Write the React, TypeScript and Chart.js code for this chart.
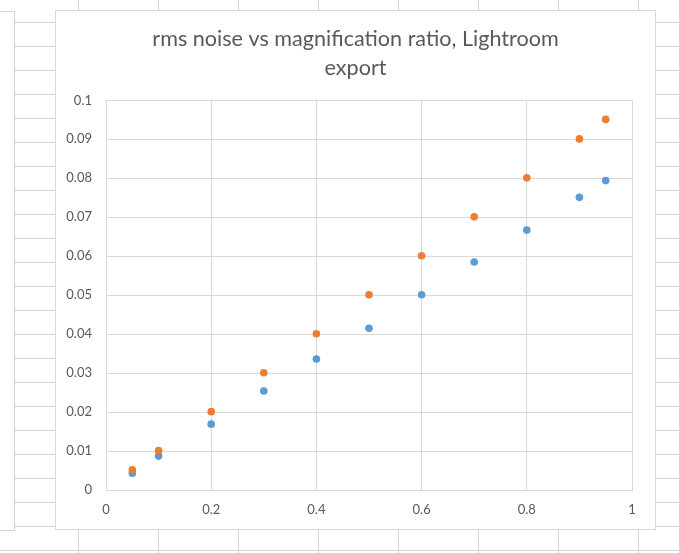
import React, { useEffect, useRef } from "react";
import { Chart, registerables } from "chart.js";

Chart.register(...registerables);

const titleLines = ["rms noise vs magnification ratio, Lightroom", "export"];
const magnification = [0.05, 0.1, 0.2, 0.3, 0.4, 0.5, 0.6, 0.7, 0.8, 0.9, 0.95];
const blueNoise = [0.0043, 0.0087, 0.0169, 0.0254, 0.0336, 0.0415, 0.0501, 0.0585, 0.0667, 0.0751, 0.0794];
const orangeNoise = [0.0052, 0.0101, 0.0201, 0.0301, 0.0401, 0.0501, 0.0601, 0.0701, 0.0801, 0.0901, 0.0951];

const GRID = "#d9d9d9";
const TEXT = "#595959";

function ChartBox() {
  const ref = useRef<HTMLCanvasElement | null>(null);
  useEffect(() => {
    if (!ref.current) return;
    const chart = new Chart(ref.current, {
      type: "scatter",
      data: {
        datasets: [
          {
            label: "blue",
            data: magnification.map((x, i) => ({ x, y: blueNoise[i] })),
            backgroundColor: "#5b9bd5",
            borderColor: "#5b9bd5",
            pointRadius: 3.8,
            borderWidth: 0,
            order: 2,
          },
          {
            label: "orange",
            data: magnification.map((x, i) => ({ x, y: orangeNoise[i] })),
            backgroundColor: "#ed7d31",
            borderColor: "#ed7d31",
            pointRadius: 3.8,
            borderWidth: 0,
            order: 1,
          },
        ],
      },
      options: {
        animation: false,
        responsive: false,
        layout: { padding: 0 },
        plugins: {
          legend: { display: false },
          tooltip: { enabled: false },
          title: {
            display: true,
            text: titleLines,
            color: TEXT,
            font: { family: "Lato", size: 21.6, weight: "normal", lineHeight: 1.35 },
            padding: { top: 13.5, bottom: 17.5 },
          },
        },
        scales: {
          x: {
            type: "linear",
            min: 0,
            max: 1,
            ticks: {
              stepSize: 0.2,
              color: TEXT,
              padding: 12,
              font: { family: "Lato", size: 13 },
              callback: (v: any) => String(Number(Number(v).toFixed(2))),
            },
            grid: { color: GRID, drawTicks: false },
            border: { color: GRID },
            afterFit: (s: any) => {
              s.height = 39;
            },
          },
          y: {
            type: "linear",
            min: 0,
            max: 0.1,
            ticks: {
              stepSize: 0.01,
              color: TEXT,
              padding: 14,
              font: { family: "Lato", size: 13 },
              callback: (v: any) => String(Number(Number(v).toFixed(3))),
            },
            grid: { color: GRID, drawTicks: false },
            border: { color: GRID },
            afterFit: (s: any) => {
              s.width = 50;
            },
          },
          spacer: {
            type: "linear",
            position: "right",
            display: true,
            ticks: { display: false },
            grid: { display: false, drawTicks: false },
            border: { display: false },
            afterFit: (s: any) => {
              s.width = 23;
            },
          },
        },
      },
    });
    return () => chart.destroy();
  }, []);
  return <canvas ref={ref} width={599} height={518} style={{ display: "block", width: 599, height: 518 }} />;
}

export default function App() {
  const rows: number[] = [];
  for (let y = 22; y < 553; y += 24) rows.push(y);
  const cols: number[] = [];
  for (let x = 78; x < 679; x += 80) cols.push(x);
  const line = "#d4d4d4";
  return (
    <div style={{ position: "fixed", left: 0, top: 0, width: 679, height: 553, background: "#fff", overflow: "hidden" }}>
      {rows.map((y) => (
        <div key={"r" + y} style={{ position: "absolute", left: 0, top: y, width: 679, height: 1, background: line }} />
      ))}
      {cols.map((x) => (
        <div key={"c" + x} style={{ position: "absolute", left: x, top: 0, width: 1, height: 553, background: line }} />
      ))}
      <div
        style={{
          position: "absolute",
          left: -1,
          top: 11,
          width: 14,
          height: 518,
          background: "#fff",
          border: "1px solid " + line,
        }}
      />
      <div
        style={{
          position: "absolute",
          left: 55,
          top: 10,
          width: 599,
          height: 518,
          background: "#fff",
          border: "1px solid " + GRID,
        }}
      >
        <ChartBox />
      </div>
    </div>
  );
}
